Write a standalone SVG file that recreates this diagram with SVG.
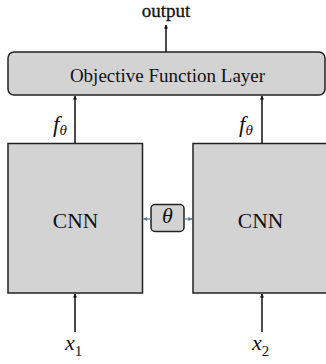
<svg xmlns="http://www.w3.org/2000/svg" width="326" height="364" viewBox="0 0 326 364">
  <defs>
    <marker id="head" viewBox="0 0 10 10" refX="9" refY="5" markerWidth="4" markerHeight="5" orient="auto" markerUnits="userSpaceOnUse">
      <path d="M0,0 L10,5 L0,10 z" fill="#111"/>
    </marker>
    <marker id="headBlue" viewBox="0 0 10 10" refX="9" refY="5" markerWidth="5" markerHeight="4" orient="auto" markerUnits="userSpaceOnUse">
      <path d="M0,0 L10,5 L0,10 z" fill="#5b7896"/>
    </marker>
    <style>
      .box { fill: #d3d3d3; stroke: #222; stroke-width: 1.5; }
      .lbl { font-family: "Liberation Serif", "Times New Roman", serif; fill: #111; text-anchor: middle; }
      .it { font-family: "Liberation Serif", "Times New Roman", serif; font-style: italic; fill: #111; }
      .arrow { stroke: #111; stroke-width: 1.5; fill: none; marker-end: url(#head); }
      .link { stroke: #5b7896; stroke-width: 1.2; fill: none; marker-end: url(#headBlue); }
    </style>
  </defs>
  <rect width="326" height="364" fill="#fff"/>

  <g id="output-label">
    <text class="lbl" x="166" y="17" font-size="19" stroke="#111" stroke-width="0.3">output</text>
  </g>

  <g id="objective-layer">
    <rect class="box" x="8" y="52" width="317" height="43" rx="6"/>
    <text class="lbl" x="167.5" y="82" font-size="19">Objective Function Layer</text>
  </g>

  <g id="cnn-left">
    <rect class="box" x="8" y="143.5" width="134.5" height="149.5"/>
    <text class="lbl" x="75.5" y="228" font-size="21.5">CNN</text>
  </g>

  <g id="cnn-right">
    <rect class="box" x="193" y="143.5" width="140" height="149.5"/>
    <text class="lbl" x="260.5" y="228" font-size="21.5">CNN</text>
  </g>

  <g id="shared-params">
    <rect class="box" x="151" y="204.5" width="33" height="27" rx="4"/>
    <text class="lbl" x="167.5" y="223" font-size="22" font-style="italic">θ</text>
  </g>

  <g id="connectors">
    <line class="arrow" x1="166" y1="52" x2="166" y2="25"/>
    <line class="arrow" x1="75" y1="143" x2="75" y2="96"/>
    <line class="arrow" x1="262" y1="143" x2="262" y2="96"/>
    <line class="arrow" x1="75" y1="332" x2="75" y2="294"/>
    <line class="arrow" x1="262" y1="332" x2="262" y2="294"/>
    <line class="link" x1="151" y1="219" x2="143.5" y2="219"/>
    <line class="link" x1="184" y1="219" x2="192" y2="219"/>
  </g>

  <g id="labels">
    <text class="it" x="53" y="132" font-size="23">f<tspan font-size="15" dy="3">θ</tspan></text>
    <text class="it" x="239" y="132" font-size="23">f<tspan font-size="15" dy="3">θ</tspan></text>
    <text class="it" x="65" y="350" font-size="22">x<tspan font-style="normal" font-size="15" dy="6">1</tspan></text>
    <text class="it" x="252" y="350" font-size="22">x<tspan font-style="normal" font-size="15" dy="6">2</tspan></text>
  </g>
</svg>
